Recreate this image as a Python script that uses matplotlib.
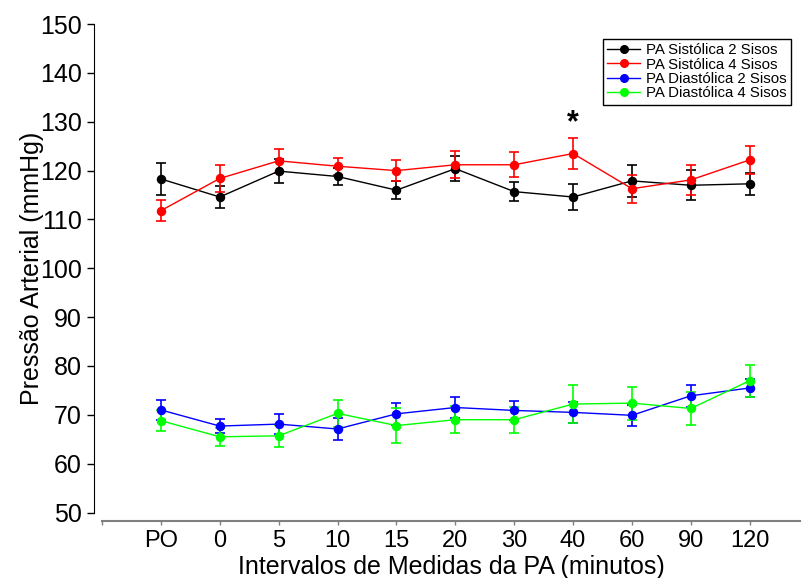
import numpy as np
import matplotlib
matplotlib.use("Agg")
import matplotlib.pyplot as plt
from matplotlib.lines import Line2D

plt.rcParams['font.family'] = ['Liberation Sans', 'DejaVu Sans']

# intervalos de medida
intervalos = ["PO", "0", "5", "10", "15", "20", "30", "40", "60", "90", "120"]

# PA sistolica (media e EPM)
sis2_media = [118.3, 114.6, 119.9, 118.8, 116.0, 120.4, 115.7, 114.6, 117.9, 117.0, 117.3]
sis2_epm = [3.3, 2.3, 2.5, 1.8, 1.9, 2.5, 1.9, 2.6, 3.3, 3.1, 2.2]
sis4_media = [111.8, 118.4, 122.0, 120.9, 120.0, 121.2, 121.2, 123.5, 116.3, 118.1, 122.2]
sis4_epm = [2.2, 2.7, 2.5, 1.7, 2.2, 2.8, 2.6, 3.2, 2.9, 3.0, 2.9]

# PA diastolica (media e EPM)
dia2_media = [71.0, 67.7, 68.1, 67.1, 70.2, 71.5, 70.9, 70.5, 69.9, 73.9, 75.5]
dia2_epm = [2.1, 1.4, 2.1, 2.2, 2.3, 2.2, 2.0, 2.2, 2.1, 2.3, 1.8]
dia4_media = [68.8, 65.5, 65.7, 70.3, 67.8, 69.0, 69.0, 72.2, 72.4, 71.3, 77.0]
dia4_epm = [2.2, 1.8, 2.3, 2.8, 3.6, 2.8, 2.7, 3.9, 3.4, 3.3, 3.3]

series = [
    ("PA Sistólica 2 Sisos", sis2_media, sis2_epm, "black"),
    ("PA Sistólica 4 Sisos", sis4_media, sis4_epm, "#ff0000"),
    ("PA Diastólica 2 Sisos", dia2_media, dia2_epm, "#0000ff"),
    ("PA Diastólica 4 Sisos", dia4_media, dia4_epm, "#00ff00"),
]

fig = plt.figure(figsize=(8.03, 5.78), dpi=100)
ax = fig.add_axes([0.127, 0.1133, 0.869, 0.845])

x = np.arange(1, len(intervalos) + 1)
handles = []
for nome, media, epm, cor in series:
    ax.errorbar(x, media, yerr=epm, color=cor, marker='o', markersize=5.8,
                linewidth=1, elinewidth=1.2, capsize=3.8, capthick=1.2)
    handles.append(Line2D([], [], color=cor, marker='o', markersize=5.5,
                          linewidth=1, label=nome))

# diferenca significativa aos 40 min
ax.text(8, 129.6, "*", ha='center', va='center', fontsize=22, fontweight='bold')

ax.set_ylim(50, 150)
ax.set_xlim(0, 11.85)
ax.set_yticks(np.arange(50, 151, 10))
ax.set_xticks(np.arange(0, len(intervalos) + 1))
ax.set_xticklabels([""] + intervalos)

ax.spines['top'].set_visible(False)
ax.spines['right'].set_visible(False)
ax.spines['left'].set_position(('outward', 6))
ax.spines['bottom'].set_position(('outward', 6))
ax.spines['left'].set_bounds(50, 150)
ax.spines['bottom'].set_color('#808080')
ax.spines['bottom'].set_linewidth(1.5)
ax.tick_params(axis='y', labelsize=18, length=5, width=1)
ax.tick_params(axis='x', labelsize=17, length=3, width=1, color='#808080')

ax.set_xlabel("Intervalos de Medidas da PA (minutos)", fontsize=18, labelpad=2)
ax.set_ylabel("Pressão Arterial (mmHg)", fontsize=18, labelpad=-3)

leg = ax.legend(handles=handles, loc='upper right', bbox_to_anchor=(0.9985, 0.985),
                fontsize=10.8, frameon=True, fancybox=False, edgecolor='black',
                framealpha=1, handlelength=2.2, handletextpad=0.4, borderpad=0.3,
                labelspacing=0.02)
leg.get_frame().set_linewidth(1)

fig.savefig("out.png", dpi=100)
